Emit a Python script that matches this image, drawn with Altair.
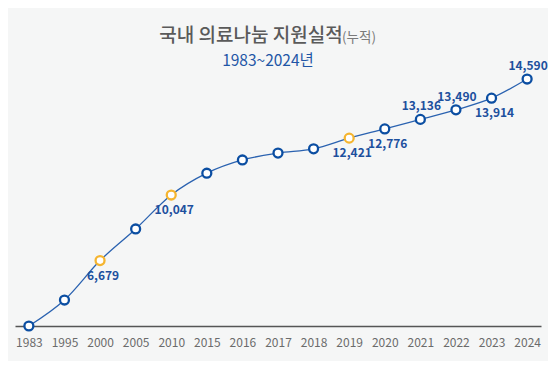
import altair as alt
import pandas as pd

years = ["1983", "1995", "2000", "2005", "2010", "2015", "2016", "2017",
         "2018", "2019", "2020", "2021", "2022", "2023", "2024"]
values = [0, 3880, 6679, 8420, 10047, 11000, 11550, 11830,
          12000, 12421, 12776, 13136, 13490, 13914, 14590]
highlight_years = ["2000", "2010", "2019"]
labels_above = ["2021", "2022", "2024"]
labels_below = ["2000", "2010", "2019", "2020", "2023"]

title_main = "국내 의료나눔 지원실적"
title_note = "(누적)"
subtitle = "1983~2024년"

df = pd.DataFrame({"year": years, "value": values})
df["kind"] = ["highlight" if y in highlight_years else "normal" for y in years]
df["label"] = [f"{v:,}" for v in values]

FONT = "Noto Sans CJK KR"
W, H = 526, 266

x = alt.X(
    "year:O", sort=years,
    scale=alt.Scale(type="point", padding=0.39),
    axis=alt.Axis(title=None, labelAngle=0, ticks=False, grid=False,
                  domainColor="#555555", domainWidth=1.5,
                  labelColor="#6b6b6b", labelFontSize=12, labelPadding=11,
                  labelFont=FONT),
)
y = alt.Y("value:Q",
          scale=alt.Scale(type="pow", exponent=1.7, domain=[0, 15241], nice=False),
          axis=None)

base = alt.Chart(df).encode(x=x, y=y)

line = base.mark_line(color="#2a62b0", strokeWidth=1.3, interpolate="monotone")

points = base.mark_point(shape="circle", filled=True, fill="white", size=80,
                         strokeWidth=2.3, opacity=1).encode(
    stroke=alt.Stroke("kind:N",
                      scale=alt.Scale(domain=["normal", "highlight"],
                                      range=["#0b4ea2", "#f5b530"]),
                      legend=None)
)

lab_style = dict(fontSize=12, fontWeight="bold", color="#1d509e", font=FONT,
                 baseline="middle", align="center")
above = base.mark_text(dy=-13, dx=1, **lab_style).encode(text="label:N").transform_filter(
    alt.FieldOneOfPredicate(field="year", oneOf=labels_above))
below = base.mark_text(dy=15, dx=3, **lab_style).encode(text="label:N").transform_filter(
    alt.FieldOneOfPredicate(field="year", oneOf=labels_below))

tdf = pd.DataFrame({"main": [title_main], "note": [title_note], "sub": [subtitle]})
tbase = alt.Chart(tdf)
t_main = tbase.mark_text(fontSize=19, fontWeight=500, color="#5a5a5a", font=FONT,
                         align="center", baseline="middle").encode(
    x=alt.value(236), y=alt.value(-24), text="main:N")
t_note = tbase.mark_text(fontSize=13.5, color="#7a7a7a", font=FONT,
                         align="center", baseline="middle").encode(
    x=alt.value(344), y=alt.value(-22), text="note:N")
t_sub = tbase.mark_text(fontSize=15.5, color="#1f56a6", font=FONT,
                        align="center", baseline="middle").encode(
    x=alt.value(253), y=alt.value(1), text="sub:N")

chart = alt.layer(line, points, above, below, t_main, t_note, t_sub).properties(
    width=W, height=H,
    autosize=alt.AutoSizeParams(type="none"),
    padding={"left": 7, "top": 52, "right": 7, "bottom": 35},
).configure(background="#f5f6f6").configure_view(strokeWidth=0)

chart.save("out.html", embed_options={"renderer": "svg", "actions": False})
